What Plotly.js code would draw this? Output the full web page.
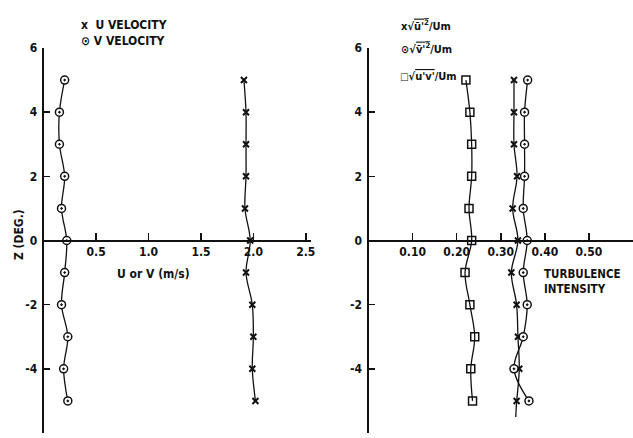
<!DOCTYPE html>
<html>
<head>
<meta charset="utf-8">
<script src="https://cdn.plot.ly/plotly-3.0.1.min.js"></script>
<style>
  html, body { margin: 0; padding: 0; background: #fff; }
  #chart { width: 633px; height: 438px; }
</style>
</head>
<body>
<div id="chart"></div>
<script>
// Traverse positions (degrees)
const zLevels = [5, 4, 3, 2, 1, 0, -1, -2, -3, -4, -5];

// Mean velocities (m/s)
const uVelocity = [1.91, 1.93, 1.93, 1.93, 1.92, 1.97, 1.93, 1.99, 2.00, 1.99, 2.02];
const vVelocity = [0.20, 0.15, 0.15, 0.20, 0.17, 0.22, 0.20, 0.17, 0.23, 0.19, 0.23];

// Turbulence intensities (normalised by Um)
const uRms  = [0.330, 0.330, 0.330, 0.337, 0.327, 0.339, 0.324, 0.336, 0.339, 0.342, 0.336];
const vRms  = [0.361, 0.354, 0.354, 0.354, 0.351, 0.360, 0.351, 0.360, 0.351, 0.330, 0.364];
const uvRms = [0.221, 0.230, 0.234, 0.234, 0.228, 0.234, 0.219, 0.230, 0.241, 0.232, 0.236];

// Continuation of the u' curve below the last station
const uRmsTail = [0.336, 0.334];
const zTail = [-5, -5.5];

// Tick labels
const zTicks = [-6, -4, -2, 0, 2, 4, 6];
const zTickText = ['-6', '-4', '-2', '0', '2', '4', '6'];
const velTicks = [0.5, 1.0, 1.5, 2.0, 2.5];
const velTickText = ['0.5', '1.0', '1.5', '2.0', '2.5'];
const tiTicks = [0.1, 0.2, 0.3, 0.4, 0.5];
const tiTickText = ['0.10', '0.20', '0.30', '0.40', '0.50'];

const INK = '#111';
const FONT = '"Liberation Sans Narrow", "DejaVu Sans Condensed", "Liberation Sans", Arial, sans-serif';
const lineStyle = { color: INK, width: 1.3, shape: 'spline', smoothing: 1 };

const xMark = { symbol: 'x-thin', size: 6, color: INK, line: { color: INK, width: 2 } };
const oMark = { symbol: 'circle-dot', size: 8, color: '#fff', line: { color: INK, width: 1.5 } };
const sMark = { symbol: 'square-open', size: 8, color: INK, line: { color: INK, width: 1.5 } };

const traces = [
  { x: uVelocity, y: zLevels, xaxis: 'x', yaxis: 'y', mode: 'lines+markers', line: lineStyle, marker: xMark },
  { x: vVelocity, y: zLevels, xaxis: 'x', yaxis: 'y', mode: 'lines+markers', line: lineStyle, marker: oMark },
  { x: uRmsTail, y: zTail, xaxis: 'x2', yaxis: 'y2', mode: 'lines', line: lineStyle },
  { x: uRms, y: zLevels, xaxis: 'x2', yaxis: 'y2', mode: 'lines+markers', line: lineStyle, marker: xMark },
  { x: vRms, y: zLevels, xaxis: 'x2', yaxis: 'y2', mode: 'lines+markers', line: lineStyle, marker: oMark },
  { x: uvRms, y: zLevels, xaxis: 'x2', yaxis: 'y2', mode: 'lines+markers', line: lineStyle, marker: sMark }
];

const tickFont = { family: FONT, size: 12, color: INK, weight: 'bold' };

const xBase = {
  anchor: 'free', position: 0.5, showline: true, linecolor: INK, linewidth: 2,
  ticks: 'inside', ticklen: 7, tickwidth: 1.5, tickcolor: INK,
  showgrid: false, zeroline: false, tickfont: tickFont, tickmode: 'array'
};
const yBase = {
  range: [-6, 6], showline: true, linecolor: INK, linewidth: 2,
  ticks: 'inside', ticklen: 6, tickwidth: 1.5, tickcolor: INK,
  showgrid: false, zeroline: false, tickfont: tickFont,
  tickmode: 'array', tickvals: zTicks, ticktext: zTickText, ticklabelstandoff: 2
};

const textFont = { family: FONT, size: 12, color: INK, weight: 'bold' };
const ann = (x, y, text, extra) => Object.assign({
  xref: 'paper', yref: 'paper', x: x, y: y, text: text, showarrow: false,
  font: textFont, xanchor: 'left', yanchor: 'middle'
}, extra || {});

// paper coords: x = px/633, y = (433 - px)/385
const px = (v) => v / 633;
const py = (v) => (433 - v) / 385;

const over = (s) => '<span style="text-decoration:overline">' + s + '</span>';
const mathFont = { font: { family: FONT, size: 11, color: INK, weight: 'bold' } };

const layout = {
  width: 633, height: 438,
  margin: { l: 0, r: 0, t: 48, b: 5 },
  paper_bgcolor: '#fff', plot_bgcolor: 'rgba(0,0,0,0)',
  showlegend: false,
  font: { family: FONT, color: INK },
  xaxis: Object.assign({}, xBase, { domain: [px(43.7), px(311)], range: [0, 2.55], tickvals: velTicks, ticktext: velTickText }),
  yaxis: Object.assign({}, yBase, { anchor: 'x', domain: [0, 1] }),
  xaxis2: Object.assign({}, xBase, { domain: [px(368.5), 1], range: [0, 0.6], tickvals: tiTicks, ticktext: tiTickText }),
  yaxis2: Object.assign({}, yBase, { anchor: 'x2', domain: [0, 1] }),
  annotations: [
    ann(px(79), py(25), 'x  U VELOCITY'),
    ann(px(79), py(41.5), '⊙ V VELOCITY'),
    ann(px(153), py(274), 'U or V (m/s)', { xanchor: 'center' }),
    ann(px(19), py(235), 'Z (DEG.)', { xanchor: 'center', textangle: -90 }),
    ann(px(399), py(25), 'x√' + over('ū\'<sup>2</sup>') + '/Um', mathFont),
    ann(px(399), py(48.5), '⊙√' + over('v̄\'<sup>2</sup>') + '/Um', mathFont),
    ann(px(398), py(76), '<span style="font-size:10px">□</span>√' + over('u\'v\'') + '/Um', mathFont),
    ann(px(542), py(281), 'TURBULENCE<br>INTENSITY', { align: 'left', font: { family: FONT, size: 11.5, color: INK, weight: 'bold' } })
  ]
};

Plotly.newPlot('chart', traces, layout, { staticPlot: true, displayModeBar: false });
</script>
</body>
</html>
